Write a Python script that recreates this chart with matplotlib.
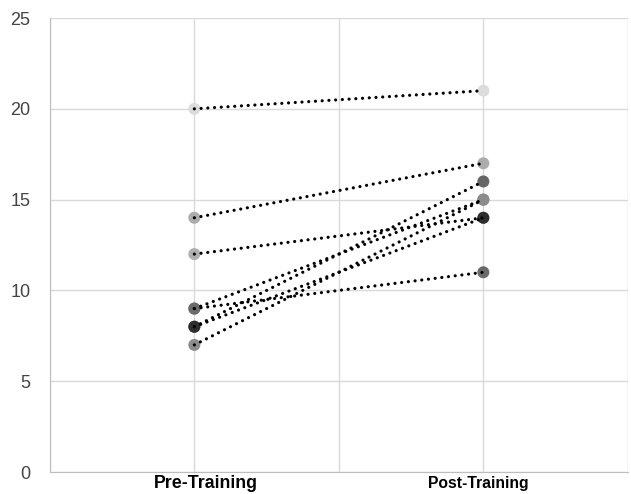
import matplotlib
matplotlib.use("Agg")
import matplotlib.pyplot as plt

# scores for each trainee, before and after
pre_scores = [20, 14, 12, 9, 9, 8, 8, 7]
post_scores = [21, 17, 14, 15, 11, 16, 14, 15]
marker_colors = ['#dcdcdc', '#acacac', '#b0b0b0', '#8a8a8a', '#6a6a6a',
                 '#666666', '#2e2e2e', '#8c8c8c']
stages = ['Pre-Training', 'Post-Training']
y_ticks = [0, 5, 10, 15, 20, 25]

plt.rcParams['font.family'] = ['Liberation Sans', 'DejaVu Sans']

fig = plt.figure(figsize=(6.31, 4.94), dpi=100)
ax = fig.add_axes([0.079, 0.0445, 0.916, 0.919])

xpos = [1, 3]
for pre, post, c in zip(pre_scores, post_scores, marker_colors):
    ax.plot(xpos, [pre, post], linestyle=(0, (0.01, 2.1)), color='black',
            lw=2.3, dash_capstyle='round', zorder=3)
    ax.scatter(xpos, [pre, post], s=75, color=c, edgecolors='none', zorder=2)

ax.set_xlim(0, 4)
ax.set_ylim(0, 25)
ax.set_yticks(y_ticks)
ax.set_xticks([0, 1, 2, 3, 4])
ax.set_xticklabels([])

# category labels, a bit off-centre like the original
label_style = [(8.6, 12.8), (-3.6, 11.3)]
for x, name, (dx, fs) in zip(xpos, stages, label_style):
    ax.annotate(name, xy=(x, 0), xycoords=('data', 'axes fraction'),
                xytext=(dx, -11.5), textcoords='offset points',
                ha='center', va='baseline', fontsize=fs, fontweight='bold',
                annotation_clip=False)

ax.grid(True, color='#d9d9d9', lw=1)
ax.set_axisbelow(True)
ax.tick_params(axis='both', length=0)
ax.tick_params(axis='y', labelsize=13, labelcolor='#444444', pad=14)
for side in ['top', 'right']:
    ax.spines[side].set_visible(False)
ax.spines['left'].set_color('#bdbdbd')
ax.spines['bottom'].set_color('#bdbdbd')

fig.savefig('out.png', dpi=100)
